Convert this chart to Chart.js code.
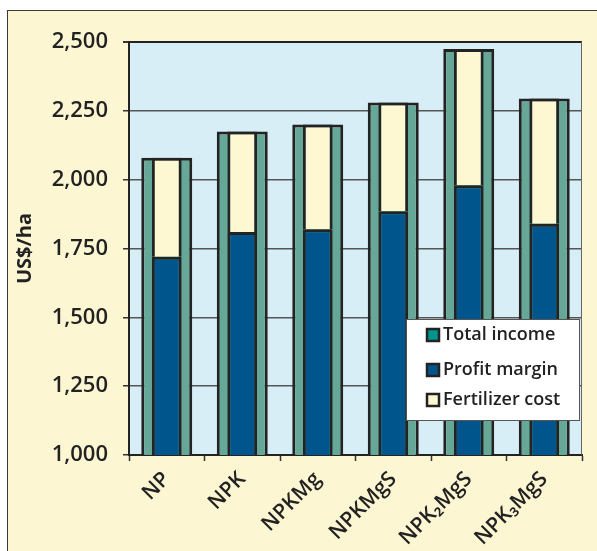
<!DOCTYPE html>
<html>
<head>
<meta charset="utf-8">
<script src="https://cdn.jsdelivr.net/npm/chart.js@4/dist/chart.umd.min.js"></script>
<style>
  html, body { margin:0; padding:0; background:#fff; overflow:hidden; }
  #frame { position:absolute; left:7px; top:10px; width:620px; height:580px; background:#fdf6d3; border:1.5px solid #3a3a3a; }
  #wrap { position:absolute; left:0; top:0; width:597px; height:551px; }
</style>
</head>
<body>
<div id="frame"></div>
<div id="wrap"><canvas id="chart"></canvas></div>
<script>
// ===== Income, profit and fertilizer cost per treatment (US$/ha) =====
const categories     = ['NP', 'NPK', 'NPKMg', 'NPKMgS', 'NPK₂MgS', 'NPK₃MgS'];
const totalIncome    = [2080, 2175, 2200, 2280, 2475, 2295];
const profitMargin   = [1720, 1810, 1820, 1885, 1980, 1840];
const fertilizerCost = [360, 365, 380, 395, 495, 455];
const yTicks         = [1000, 1250, 1500, 1750, 2000, 2250, 2500];

const colors = {
  page: '#fdf6d3', plot: '#d8eef6', teal: '#66a898', tealKey: '#00958e',
  blue: '#00568c', cream: '#fdf7d2', edge: '#232323', grid: '#555', text: '#222'
};
const FONT = 'Open Sans';

// light blue plot background + thin right edge
const plotBg = {
  id: 'plotBg',
  beforeDraw(chart) {
    const { ctx, chartArea: a } = chart;
    ctx.save();
    ctx.fillStyle = colors.plot;
    ctx.fillRect(a.left, a.top, a.right - a.left, a.bottom - a.top);
    ctx.restore();
  },
  afterDraw(chart) {
    const { ctx, chartArea: a } = chart;
    ctx.save();
    ctx.strokeStyle = '#666';
    ctx.lineWidth = 1;
    ctx.beginPath();
    ctx.moveTo(a.right - 0.5, a.top);
    ctx.lineTo(a.right - 0.5, a.bottom);
    ctx.stroke();
    ctx.restore();
  }
};

// boxed legend inside the plot, lower right
const boxLegend = {
  id: 'boxLegend',
  afterDraw(chart) {
    const { ctx, chartArea: a } = chart;
    const w = 174, h = 102;
    const x = a.right - 2 - w, y = a.bottom - 34 - h;
    ctx.save();
    ctx.fillStyle = '#fff';
    ctx.fillRect(x, y, w, h);
    ctx.strokeStyle = '#555';
    ctx.lineWidth = 1;
    ctx.strokeRect(x + 0.5, y + 0.5, w - 1, h - 1);
    ctx.font = `600 18px "${FONT}"`;
    ctx.textBaseline = 'middle';
    const rows = [16, 51, 81];
    chart.data.datasets.forEach((ds, i) => {
      const cy = y + rows[i];
      ctx.fillStyle = ds.keyColor;
      ctx.fillRect(x + 21, cy - 6, 12, 12);
      ctx.strokeStyle = colors.edge;
      ctx.lineWidth = 2.5;
      ctx.strokeRect(x + 21, cy - 6, 12, 12);
      ctx.fillStyle = colors.text;
      ctx.fillText(ds.label, x + 37, cy);
    });
    ctx.restore();
  }
};

const ctx = document.getElementById('chart').getContext('2d');
new Chart(ctx, {
  type: 'bar',
  data: {
    labels: categories,
    datasets: [
      { label: 'Total income', data: totalIncome, stack: 'total', order: 2,
        backgroundColor: colors.teal, keyColor: colors.tealKey, borderColor: colors.edge, borderWidth: 3,
        grouped: false, categoryPercentage: 1, barPercentage: 0.675 },
      { label: 'Profit margin', data: profitMargin, stack: 'parts', order: 1,
        backgroundColor: colors.blue, keyColor: colors.blue, borderColor: colors.edge, borderWidth: 3,
        grouped: false, categoryPercentage: 1, barPercentage: 0.395 },
      { label: 'Fertilizer cost', data: fertilizerCost, stack: 'parts', order: 1,
        backgroundColor: colors.cream, keyColor: colors.cream, borderColor: colors.edge, borderWidth: 3,
        grouped: false, categoryPercentage: 1, barPercentage: 0.395 }
    ]
  },
  options: {
    responsive: true, maintainAspectRatio: false, animation: false,
    layout: { padding: { left: 0, top: 42, right: 15, bottom: 0 } },
    plugins: { legend: { display: false }, tooltip: { enabled: false } },
    scales: {
      x: {
        afterFit: s => { s.height = 96; },
        grid: { offset: true, drawOnChartArea: false, tickLength: 6, tickColor: '#333', tickWidth: 1.5 },
        border: { color: colors.edge, width: 2 },
        ticks: { color: colors.text, minRotation: 45, maxRotation: 45, padding: 6,
          font: { family: FONT, size: 21, weight: '600' } }
      },
      y: {
        stacked: true, min: 1000, max: 2500,
        afterFit: s => { s.width = 129; },
        afterBuildTicks: s => { s.ticks = yTicks.map(v => ({ value: v })); },
        title: { display: true, text: 'US$/ha', color: colors.text, padding: { top: 13, bottom: 0 },
          font: { family: FONT, size: 20, weight: 'bold' } },
        grid: { color: c => c.tick && c.tick.value === 2500 ? colors.edge : colors.grid,
          lineWidth: c => c.tick && c.tick.value === 2500 ? 2 : 1.5,
          tickLength: 6, tickColor: '#333' },
        border: { color: colors.edge, width: 2 },
        ticks: { color: colors.text, padding: 15,
          callback: v => v.toLocaleString('en-US'),
          font: { family: FONT, size: 22, weight: '600' } }
      }
    }
  },
  plugins: [plotBg, boxLegend]
});
</script>
</body>
</html>
